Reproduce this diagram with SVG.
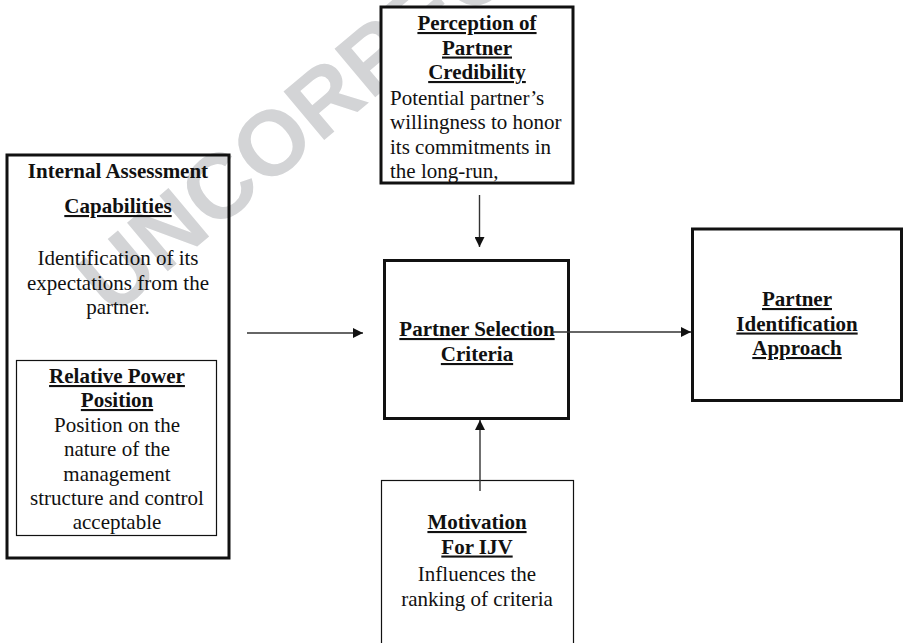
<svg xmlns="http://www.w3.org/2000/svg" width="904" height="643" viewBox="0 0 904 643">
  <defs>
    <style>
      .bg { fill: #ffffff; }
      .wm { font-family: "Liberation Sans", Arial, sans-serif; font-weight: bold; font-size: 92px; fill: #d3d4d6; }
      .box { fill: none; stroke: #111111; stroke-width: 3; }
      .filled { fill: #ffffff; }
      .thin { fill: none; stroke: #111111; stroke-width: 1.2; }
      .t { font-family: "Liberation Serif", "Times New Roman", serif; font-size: 21px; fill: #111111; }
      .c { text-anchor: middle; }
      .b { font-weight: bold; }
      .u { text-decoration: underline; }
      .conn { stroke: #333333; stroke-width: 1.4; fill: none; marker-end: url(#arrow); }
    </style>
    <marker id="arrow" viewBox="0 0 10 10" refX="10" refY="5" markerWidth="10" markerHeight="10" markerUnits="userSpaceOnUse" orient="auto">
      <path d="M0,0 L10,5 L0,10 z" fill="#111111"/>
    </marker>
  </defs>

  <rect class="bg" x="0" y="0" width="904" height="643"/>

  <text class="wm" x="112" y="318" transform="rotate(-40 112 318)">UNCORRECTED</text>

  <g id="internal-assessment">
    <rect class="box" x="7" y="155" width="222" height="403"/>
    <text class="t c b" x="118" y="178">Internal Assessment</text>
    <text class="t c b u" x="118" y="213">Capabilities</text>
    <text class="t c" x="118" y="265">Identification of its</text>
    <text class="t c" x="118" y="289.5">expectations from the</text>
    <text class="t c" x="118" y="314">partner.</text>
  </g>

  <g id="relative-power-position">
    <rect class="thin" x="16.5" y="360.5" width="200" height="175"/>
    <text class="t c b u" x="117" y="383">Relative Power</text>
    <text class="t c b u" x="117" y="407">Position</text>
    <text class="t c" x="117" y="432">Position on the</text>
    <text class="t c" x="117" y="456">nature of the</text>
    <text class="t c" x="117" y="480.5">management</text>
    <text class="t c" x="117" y="505">structure and control</text>
    <text class="t c" x="117" y="529">acceptable</text>
  </g>

  <g id="perception-of-partner-credibility">
    <rect class="box filled" x="381" y="7" width="192" height="176"/>
    <text class="t c b u" x="477" y="30">Perception of</text>
    <text class="t c b u" x="477" y="54.5">Partner</text>
    <text class="t c b u" x="477" y="79">Credibility</text>
    <text class="t" x="390" y="105">Potential partner’s</text>
    <text class="t" x="390" y="129">willingness to honor</text>
    <text class="t" x="390" y="153.5">its commitments in</text>
    <text class="t" x="390" y="178">the long-run,</text>
  </g>

  <g id="partner-selection-criteria">
    <rect class="box" x="384.5" y="260.5" width="184" height="158"/>
    <text class="t c b u" x="477" y="336">Partner Selection</text>
    <text class="t c b u" x="477" y="361">Criteria</text>
  </g>

  <g id="partner-identification-approach">
    <rect class="box" x="692.5" y="229" width="209" height="171.5"/>
    <text class="t c b u" x="797" y="306">Partner</text>
    <text class="t c b u" x="797" y="330.5">Identification</text>
    <text class="t c b u" x="797" y="355">Approach</text>
  </g>

  <g id="motivation-for-ijv">
    <rect class="thin" x="381.5" y="480.5" width="192" height="200"/>
    <text class="t c b u" x="477" y="529">Motivation</text>
    <text class="t c b u" x="477" y="553.5">For IJV</text>
    <text class="t c" x="477" y="581">Influences the</text>
    <text class="t c" x="477" y="605.5">ranking of criteria</text>
  </g>

  <g id="connectors">
    <line class="conn" x1="247" y1="333" x2="363" y2="333"/>
    <line class="conn" x1="479.5" y1="195" x2="479.5" y2="247"/>
    <line class="conn" x1="480" y1="491" x2="480" y2="420"/>
    <line class="conn" x1="552" y1="332" x2="691" y2="332"/>
  </g>
</svg>
